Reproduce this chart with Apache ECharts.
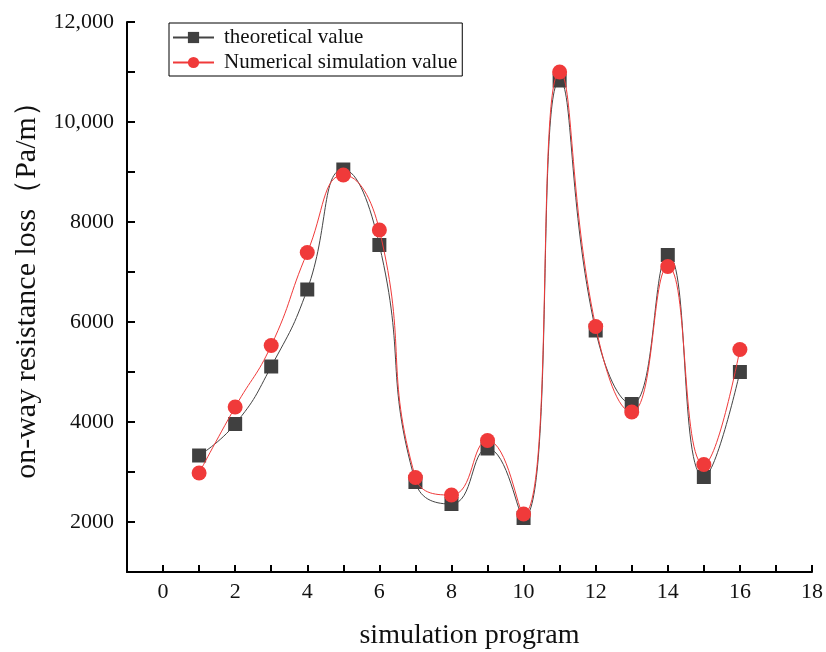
<!DOCTYPE html>
<html>
<head>
<meta charset="utf-8">
<script src="https://cdn.jsdelivr.net/npm/echarts@6/dist/echarts.min.js"></script>
<style>
  html, body { margin: 0; padding: 0; background: #fff; }
  #chart { width: 826px; height: 652px; }
</style>
</head>
<body>
<div id="chart"></div>
<script>
// simulation program number
const programs = [1, 2, 3, 4, 5, 6, 7, 8, 9, 10, 11, 12, 13, 14, 15, 16];
// on-way resistance loss (Pa/m)
const theoretical = [3330, 3960, 5110, 6650, 9050, 7540, 2800, 2360, 3470, 2080, 10830, 5830, 4360, 7340, 2900, 5000];
const numerical = [2980, 4300, 5530, 7390, 8940, 7840, 2890, 2540, 3630, 2160, 11000, 5910, 4200, 7110, 3150, 5450];

const xTickLabels = ['0', '2', '4', '6', '8', '10', '12', '14', '16', '18'];
const yTickValues = [2000, 4000, 6000, 8000, 10000, 12000];
const yTickLabels = ['2000', '4000', '6000', '8000', '10,000', '12,000'];

const serif = '"Liberation Serif", "DejaVu Serif", serif';

const chart = echarts.init(document.getElementById('chart'));

const option = {
  backgroundColor: '#fff',
  animation: false,
  grid: { left: 127, right: 14, top: 22, bottom: 80, outerBoundsMode: 'none', containLabel: false },
  legend: {
    orient: 'vertical',
    left: 169,
    top: 23,
    padding: [4, 5, 3, 3],
    itemGap: 4,
    itemWidth: 41,
    itemHeight: 14,
    borderColor: '#000',
    borderWidth: 1,
    borderRadius: 0,
    textStyle: { fontFamily: serif, fontSize: 21, color: '#111', padding: [0, 0, 0, 5] },
    data: ['theoretical value', 'Numerical simulation value']
  },
  xAxis: {
    type: 'value',
    min: -1,
    max: 18,
    interval: 1,
    name: 'simulation program',
    nameLocation: 'middle',
    nameGap: 50,
    nameTextStyle: { fontFamily: serif, fontSize: 28, color: '#111' },
    axisLine: { onZero: false, lineStyle: { color: '#000', width: 2 } },
    axisTick: { inside: true, length: 7, lineStyle: { color: '#000', width: 2 } },
    splitLine: { show: false },
    axisLabel: {
      fontFamily: serif, fontSize: 22, color: '#111', margin: 9,
      formatter: (v) => {
        const i = xTickLabels.indexOf(String(v));
        return i >= 0 ? xTickLabels[i] : '';
      }
    }
  },
  yAxis: {
    type: 'value',
    min: 1000,
    max: 12000,
    interval: 1000,
    name: 'on-way resistance loss（Pa/m）',
    nameLocation: 'middle',
    nameGap: 78,
    nameTextStyle: { fontFamily: serif, fontSize: 30, color: '#111', padding: [0, 0, 0, 28] },
    axisLine: { show: true, onZero: false, lineStyle: { color: '#000', width: 2 } },
    axisTick: { show: true, inside: true, length: 8, lineStyle: { color: '#000', width: 2 } },
    splitLine: { show: false },
    axisLabel: {
      fontFamily: serif, fontSize: 22, color: '#111', margin: 13,
      formatter: (v) => {
        const i = yTickValues.indexOf(v);
        return i >= 0 ? yTickLabels[i] : '';
      }
    }
  },
  series: [
    {
      name: 'theoretical value',
      type: 'line',
      data: programs.map((p, i) => [p, theoretical[i]]),
      smooth: 0.5,
      symbol: 'rect',
      symbolSize: 14,
      itemStyle: { color: '#404040' },
      lineStyle: { color: '#444', width: 1 },
      z: 2
    },
    {
      name: 'Numerical simulation value',
      type: 'line',
      data: programs.map((p, i) => [p, numerical[i]]),
      smooth: 0.5,
      symbol: 'circle',
      symbolSize: 15,
      itemStyle: { color: '#f03a3a' },
      lineStyle: { color: '#f03a3a', width: 1 },
      z: 3
    }
  ]
};

chart.setOption(option);
</script>
</body>
</html>
